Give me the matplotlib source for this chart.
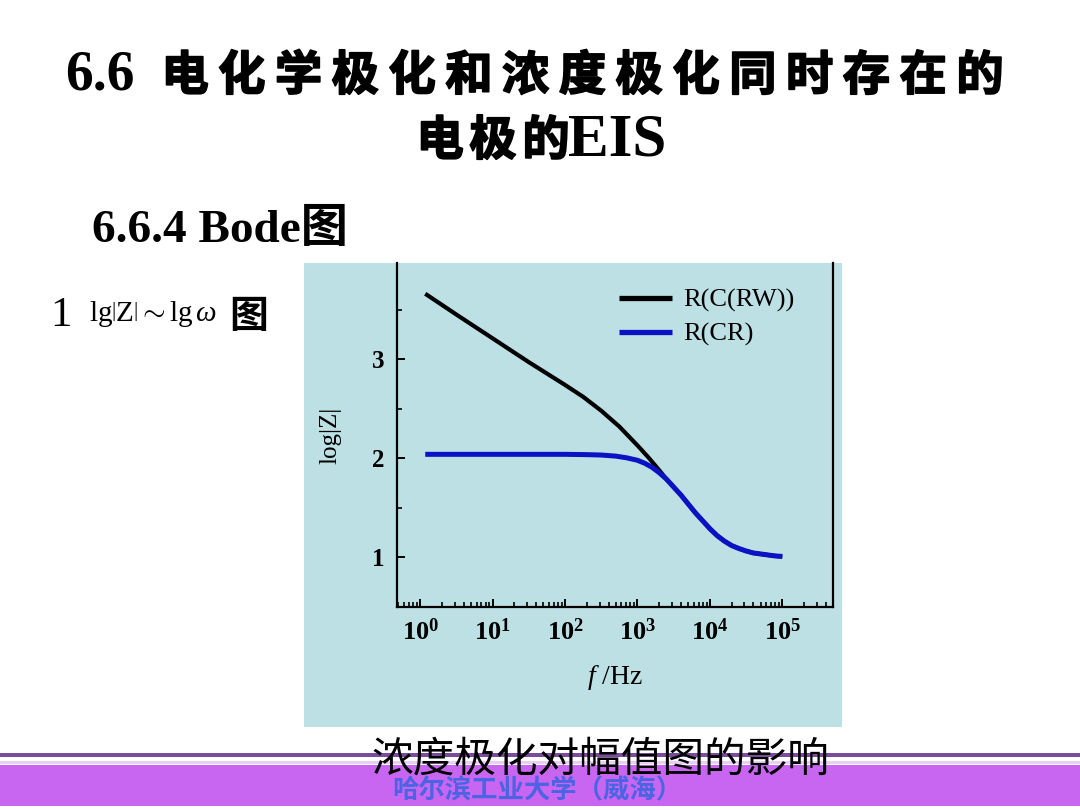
import matplotlib
matplotlib.use("Agg")
import matplotlib.pyplot as plt
import matplotlib.patheffects as pe
from matplotlib.patches import Rectangle
from matplotlib.ticker import FixedLocator, LogLocator, NullFormatter, MultipleLocator

plt.rcParams['mathtext.fontset'] = 'custom'
plt.rcParams['mathtext.rm'] = 'Liberation Serif'
plt.rcParams['mathtext.it'] = 'Liberation Serif:italic'
plt.rcParams['mathtext.bf'] = 'Liberation Serif:bold'

# ---- data: log|Z| versus frequency (Hz) ----
freq_rcrw = [1.175, 3.16, 10, 31.6, 100, 178, 316, 562, 1000, 1413, 1995, 2512,
             3162, 3981, 5012, 6310, 7943, 10000, 12589, 15849, 19953, 25119,
             31623, 39811, 56234, 79433, 100000]
logz_rcrw = [3.66, 3.45, 3.21, 2.97, 2.74, 2.62, 2.48, 2.32, 2.13, 2.01, 1.88,
             1.79, 1.71, 1.63, 1.54, 1.45, 1.37, 1.29, 1.22, 1.165, 1.12, 1.09,
             1.065, 1.045, 1.03, 1.015, 1.01]

freq_rcr = [1.175, 10, 100, 200, 316, 501, 708, 1000, 1259, 1585, 1995, 2512,
            3162, 3981, 5012, 6310, 7943, 10000, 12589, 15849, 19953, 25119,
            31623, 39811, 56234, 79433, 100000]
logz_rcr = [2.04, 2.04, 2.04, 2.037, 2.033, 2.022, 2.005, 1.98, 1.95, 1.91,
            1.855, 1.79, 1.71, 1.63, 1.54, 1.45, 1.37, 1.29, 1.22, 1.165, 1.12,
            1.09, 1.065, 1.045, 1.03, 1.015, 1.01]

series_names = ["R(C(RW))", "R(CR)"]
x_ticks = [1, 10, 100, 1000, 10000, 100000]
x_ticklabels = [r"$\mathbf{10^{%d}}$" % i for i in range(6)]
y_ticks = [1, 2, 3]

title_line1_num = "6.6"
title_line1_cjk = "电化学极化和浓度极化同时存在的"
title_line2_cjk = "电极的"
title_line2_latin = "EIS"
section = "6.6.4 Bode图"
caption = "浓度极化对幅值图的影响"
footer = "哈尔滨工业大学（威海）"

W, H = 1080, 810
fig = plt.figure(figsize=(10.8, 8.1), dpi=100)
fig.patch.set_facecolor("white")


def fx(x):
    return x / W


def fy(y):
    return 1 - y / H


CJK = ["Noto Sans CJK SC", "DejaVu Sans"]
SERIF_CJK = ["Liberation Serif", "Noto Sans CJK SC"]
heavy = [pe.withStroke(linewidth=1.3, foreground="black")]

# ---- slide title ----
fig.text(fx(100), fy(75), title_line1_num, family="Liberation Serif",
         weight="bold", fontsize=40, ha="center", va="center")
x0, x1 = 185, 980
step = (x1 - x0) / (len(title_line1_cjk) - 1)
for i, ch in enumerate(title_line1_cjk):
    fig.text(fx(x0 + i * step), fy(76), ch, family=CJK, weight="bold",
             fontsize=34, ha="center", va="center", path_effects=heavy)
for i, ch in enumerate(title_line2_cjk):
    fig.text(fx(440 + i * 53), fy(141), ch, family=CJK, weight="bold",
             fontsize=34, ha="center", va="center", path_effects=heavy)
fig.text(fx(568), fy(140), title_line2_latin, family="Liberation Serif",
         weight="bold", fontsize=44, ha="left", va="center")

fig.text(fx(92), fy(231), section, family=SERIF_CJK, weight="bold",
         fontsize=34, ha="left", va="center")

fig.text(fx(61), fy(316), "1", family="Liberation Serif", fontsize=31,
         ha="center", va="center")
fig.text(fx(89), fy(314), r"$\mathrm{lg}\left|\mathrm{Z}\right|\sim\mathrm{lg}\,\omega$",
         fontsize=21, ha="left", va="center")
fig.text(fx(249), fy(316), "图", family=CJK, weight="bold", fontsize=28,
         ha="center", va="center")

# ---- chart panel (behind the axes) ----
fig.patches.append(Rectangle((fx(304), fy(727)), (842 - 304) / W, (727 - 263) / H,
                             transform=fig.transFigure, facecolor="#bde0e4",
                             edgecolor="none", zorder=-5))

ax = fig.add_axes([fx(397), fy(607), (833 - 397) / W, (607 - 263) / H])
ax.set_facecolor("none")
ax.set_xscale("log")
ax.set_xlim(10 ** -0.32, 10 ** 5.70)
ax.set_ylim(0.5, 3.97)

ax.plot(freq_rcrw, logz_rcrw, color="black", lw=3.0, label=series_names[0],
        solid_capstyle="butt", solid_joinstyle="round", zorder=3)
ax.plot(freq_rcr, logz_rcr, color="#0a12c4", lw=3.6, label=series_names[1],
        solid_capstyle="butt", solid_joinstyle="round", zorder=4)

for side in ["left", "right", "bottom"]:
    ax.spines[side].set_linewidth(1.6)
ax.spines["top"].set_visible(False)

ax.xaxis.set_major_locator(FixedLocator(x_ticks))
ax.set_xticklabels(x_ticklabels)
ax.xaxis.set_minor_locator(LogLocator(base=10, subs=range(2, 10), numticks=20))
ax.xaxis.set_minor_formatter(NullFormatter())
ax.yaxis.set_major_locator(FixedLocator(y_ticks))
ax.yaxis.set_minor_locator(MultipleLocator(0.5))

ax.tick_params(axis="both", which="major", direction="in", length=6, width=1.4,
               labelsize=19, pad=9)
ax.tick_params(axis="y", which="major", labelsize=18)
ax.tick_params(axis="both", which="minor", direction="in", length=3.5, width=1.2)
ax.tick_params(axis="y", which="both", right=False)
ax.tick_params(axis="x", which="both", top=False)
for lab in ax.get_yticklabels():
    lab.set_family("Liberation Serif")
    lab.set_weight("bold")

ax.set_xlabel(r"$\mathit{f}\ \mathrm{/Hz}$", fontsize=20, labelpad=12)
ax.set_ylabel("log|Z|", family="Liberation Serif", fontsize=18, labelpad=22)

leg = ax.legend(loc="upper left", bbox_to_anchor=(0.509, 0.926), frameon=False,
                prop={"family": "Liberation Serif", "size": 19},
                handlelength=2.0, handletextpad=0.45, labelspacing=0.38,
                borderaxespad=0, borderpad=0)
for line in leg.get_lines():
    line.set_linewidth(3.8)

# ---- caption and footer band ----
fig.patches.append(Rectangle((0, fy(757)), 1, 4 / H, transform=fig.transFigure,
                             facecolor="#7a4c9c", edgecolor="none", zorder=1))
fig.patches.append(Rectangle((0, fy(764)), 1, 3 / H, transform=fig.transFigure,
                             facecolor="#e6d2f0", edgecolor="none", zorder=1))
fig.patches.append(Rectangle((0, fy(806)), 1, (806 - 765) / H, transform=fig.transFigure,
                             facecolor="#c866f2", edgecolor="none", zorder=1))

fig.text(fx(600), fy(760), caption, family=CJK, fontsize=30, ha="center",
         va="center", color="black", zorder=5)
fig.text(fx(537), fy(791), footer, family=CJK, weight="bold", fontsize=19,
         ha="center", va="center", color="#4a64e2", zorder=5)

fig.savefig("out.png", dpi=100)
